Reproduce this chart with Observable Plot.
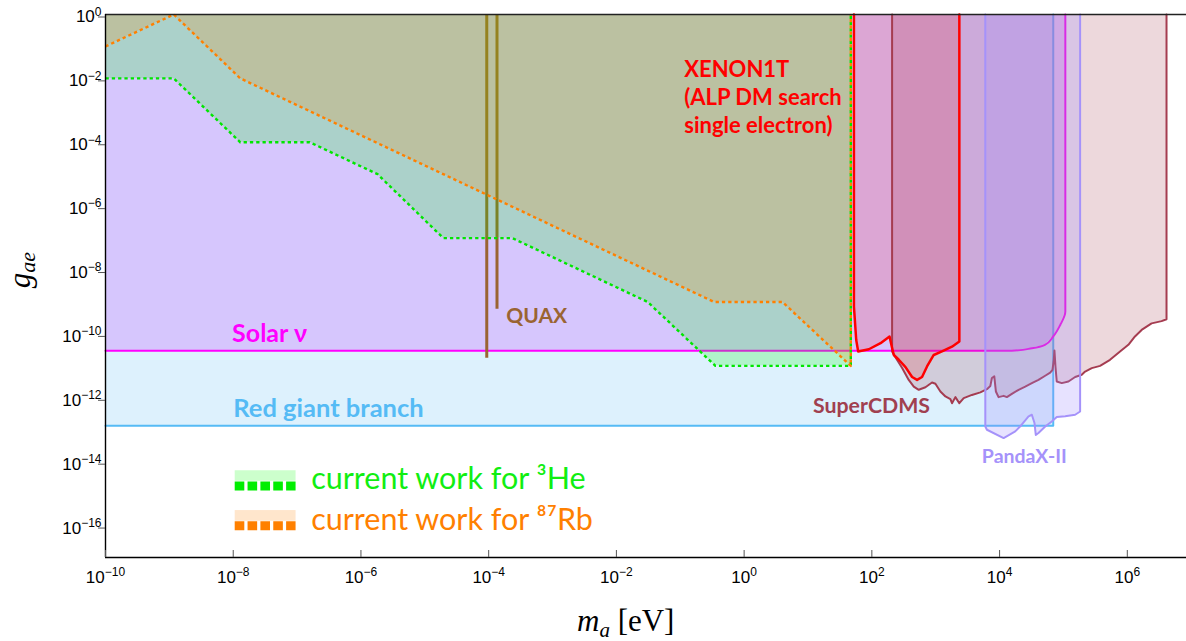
<!DOCTYPE html>
<html><head><meta charset="utf-8">
<script src="https://cdn.jsdelivr.net/npm/d3@7"></script>
<script src="https://cdn.jsdelivr.net/npm/@observablehq/plot@0.6"></script>
<style>
body{margin:0;background:#fff}
#chart{position:relative;width:1186px;height:641px}
</style>
</head><body><div id="chart"></div>
<script>
// ---------- data (mass m_a in eV, coupling g_ae) ----------
const xTicks = [1e-10, 1e-8, 1e-6, 1e-4, 1e-2, 1, 1e2, 1e4, 1e6];
const yTicks = [1, 1e-2, 1e-4, 1e-6, 1e-8, 1e-10, 1e-12, 1e-14, 1e-16];

const rgbMass = [1e-10, 6.92e4, 6.92e4];
const rgbCoupling = [1.33e-13, 1.33e-13, 1];

const solarMass = [1e-10, 1.55e4, 3.2e4, 5.13e4, 6.92e4, 8.91e4, 1.07e5, 1.07e5];
const solarCoupling = [2.95e-11, 2.95e-11, 3.55e-11, 4.57e-11, 8.32e-11, 1.91e-10, 5.01e-10, 1];

const quaxMass = [9.33e-5, 1.35e-4];
const quaxCouplingLow = [1.74e-11, 5.89e-10];

const he3Mass = [1e-10, 1.17e-9, 1.29e-8, 1.58e-7, 1.82e-6, 1.95e-5, 2.34e-4, 3.09e-2, 0.355, 46.8, 46.8];
const he3Coupling = [1e-2, 1e-2, 1e-4, 1e-4, 1e-5, 1e-7, 1e-7, 1e-9, 1e-11, 1e-11, 1];

const rb87Mass = [1e-10, 1.17e-9, 1.29e-8, 0.339, 3.98, 46.8, 46.8];
const rb87Coupling = [1e-1, 1, 1e-2, 1e-9, 1e-9, 1e-11, 1];

const xenonMass = [52.4, 52.4, 56.9, 61.1, 89.7, 136.8, 189.2, 207.5, 220.8, 264.2, 336.5, 426.6, 510.5, 610.9, 731.1, 931.1, 1253, 1799, 2344, 2344];
const xenonCoupling = [1, 7.13e-10, 6.46e-11, 2.82e-11, 3.31e-11, 5.13e-11, 8.32e-11, 3.63e-11, 2.19e-11, 1.55e-11, 9.12e-12, 4.47e-12, 3.63e-12, 4.47e-12, 9.55e-12, 2.19e-11, 2.82e-11, 3.98e-11, 5.75e-11, 1];

const cdmsMass = [207.5, 207.5, 234, 298, 378, 453, 542, 690, 875, 989, 1183, 1419, 1698, 1799, 2032, 2344, 2742, 3690, 4989, 6339, 7161, 7586, 8260, 8750, 9638, 1.156e4, 1.3e4, 1.556e4, 1.982e4, 2.518e4, 3.199e4, 4.064e4, 5.176e4, 6.194e4, 6.73e4, 7.063e4, 7.228e4, 7.499e4, 7.852e4, 9.419e4, 1.197e5, 1.524e5, 1.932e5, 2.183e5, 2.773e5, 3.741e5, 5.358e5, 7.691e5, 1.038e6, 1.318e6, 1.675e6, 2.399e6, 3.436e6, 4.111e6, 4.111e6];
const cdmsCoupling = [1, 2.82e-11, 1.86e-11, 8.51e-12, 3.63e-12, 2.24e-12, 1.78e-12, 2.14e-12, 3.02e-12, 2.75e-12, 1.58e-12, 1.10e-12, 9.12e-13, 6.76e-13, 1.05e-12, 6.76e-13, 9.77e-13, 1.23e-12, 1.48e-12, 1.86e-12, 2.34e-12, 4.17e-12, 4.68e-12, 1.58e-12, 1.05e-12, 1.15e-12, 1.05e-12, 1.32e-12, 1.78e-12, 2.24e-12, 2.88e-12, 3.63e-12, 4.90e-12, 6.17e-12, 7.41e-12, 1.55e-11, 3.02e-11, 9.55e-12, 3.24e-12, 2.88e-12, 3.24e-12, 4.47e-12, 5.25e-12, 6.61e-12, 8.51e-12, 1.0e-11, 1.55e-11, 2.82e-11, 4.57e-11, 8.32e-11, 1.33e-10, 2.14e-10, 2.51e-10, 2.88e-10, 1];

const pandaMass = [5.98e3, 5.98e3, 6.34e3, 1.156e4, 1.758e4, 2.09e4, 2.84e4, 3.20e4, 3.52e4, 3.69e4, 4.06e4, 5.18e4, 6.56e4, 7.85e4, 1.064e5, 1.524e5, 1.824e5, 1.824e5];
const pandaCoupling = [1, 1.26e-13, 1.0e-13, 5.5e-14, 8.9e-14, 1.26e-13, 2.63e-13, 2.95e-13, 1.62e-13, 6.9e-14, 7.9e-14, 1.26e-13, 1.82e-13, 2.51e-13, 2.63e-13, 2.95e-13, 3.72e-13, 1];

const regionLabels = ["Solar ν", "Red giant branch", "QUAX", "SuperCDMS", "PandaX-II", "XENON1T\n(ALP DM search\nsingle electron)"];
const legendLabels = ["current work for ³He", "current work for ⁸⁷Rb"];

// ---------- build tables ----------
const rows = (ms, gs) => ms.map((m, i) => ({m, g: gs[i]}));
const rgb = rows(rgbMass, rgbCoupling);
const solar = rows(solarMass, solarCoupling);
const quax = rows(quaxMass, quaxCouplingLow);
const he3 = rows(he3Mass, he3Coupling);
const rb87 = rows(rb87Mass, rb87Coupling);
const xenon = rows(xenonMass, xenonCoupling);
const cdms = rows(cdmsMass, cdmsCoupling);
const panda = rows(pandaMass, pandaCoupling);

const C = {
  rgb: "#55bbf5", solar: "#ff00ff", solarFill: "#c864ff", quax: "#9a6432",
  he3: "#00e600", rb87: "#ff8000", xenon: "#ff0000", cdms: "#a53c50", panda: "#a592fa"
};
const labelFont = {fontFamily: "Lato", fontWeight: "bold", fontSize: 22, textAnchor: "start", lineAnchor: "bottom"};
const expLabel = d => `10^${Math.round(Math.log10(d))}`;

const chart = Plot.plot({
  width: 1186, height: 641,
  marginLeft: 105, marginRight: 0, marginTop: 14, marginBottom: 84,
  style: {fontFamily: "Liberation Sans", fontSize: "17px", background: "white", color: "#000", overflow: "visible"},
  x: {type: "log", domain: [1e-10, 8.45e6], label: null},
  y: {type: "log", domain: [1e-17, 1], label: null},
  marks: [
    // Red giant branch
    Plot.areaY(rgb, {x: "m", y1: "g", y2: 1, fill: C.rgb, fillOpacity: 0.2}),
    Plot.line(rgb, {x: "m", y: "g", stroke: C.rgb, strokeWidth: 2}),
    // Solar neutrino
    Plot.areaY(solar, {x: "m", y1: "g", y2: 1, fill: C.solarFill, fillOpacity: 0.3}),
    Plot.line(solar, {x: "m", y: "g", stroke: C.solar, strokeWidth: 2, curve: "monotone-y"}),
    // QUAX
    Plot.ruleX(quax, {x: "m", y1: "g", y2: 1, stroke: C.quax, strokeWidth: 3}),
    // current work fills
    Plot.areaY(he3, {x: "m", y1: "g", y2: 1, fill: "#00ff00", fillOpacity: 0.2}),
    Plot.areaY(rb87, {x: "m", y1: "g", y2: 1, fill: C.rb87, fillOpacity: 0.2}),
    Plot.line(he3, {x: "m", y: "g", stroke: C.he3, strokeWidth: 2.4, strokeDasharray: "3.3,3", strokeLinecap: "butt"}),
    Plot.line(rb87, {x: "m", y: "g", stroke: C.rb87, strokeWidth: 2.4, strokeDasharray: "3.3,3", strokeLinecap: "butt"}),
    // XENON1T
    Plot.areaY(xenon, {x: "m", y1: "g", y2: 1, fill: C.xenon, fillOpacity: 0.16}),
    // SuperCDMS
    Plot.areaY(cdms, {x: "m", y1: "g", y2: 1, fill: C.cdms, fillOpacity: 0.2}),
    Plot.line(cdms, {x: "m", y: "g", stroke: C.cdms, strokeWidth: 2}),
    // PandaX-II
    Plot.areaY(panda, {x: "m", y1: "g", y2: 1, fill: "#a08cff", fillOpacity: 0.25}),
    Plot.line(panda, {x: "m", y: "g", stroke: C.panda, strokeWidth: 2}),
    Plot.line(xenon, {x: "m", y: "g", stroke: C.xenon, strokeWidth: 2.5}),
    // region labels
    Plot.text([regionLabels[0]], {...labelFont, fontSize: 25, x: 9.6e-9, y: 5.4e-11, fill: C.solar}),
    Plot.text([regionLabels[1]], {...labelFont, fontSize: 25.5, x: 1e-8, y: 2.57e-13, fill: C.rgb}),
    Plot.text([regionLabels[2]], {...labelFont, fontSize: 21, x: 1.89e-4, y: 2.16e-10, fill: C.quax}),
    Plot.text([regionLabels[3]], {...labelFont, fontSize: 21.3, x: 11.97, y: 3.39e-13, fill: "#a0404f"}),
    Plot.text([regionLabels[4]], {...labelFont, fontSize: 19.5, x: 5.28e3, y: 9.1e-15, fill: C.panda}),
    Plot.text([regionLabels[5]], {...labelFont, lineAnchor: "top", lineHeight: 1.27, x: 0.1155, y: 4.63e-2, fill: C.xenon}),
    // legend
    Plot.rect([0], {x1: 1.074e-8, x2: 9.64e-8, y1: 2.43e-15, y2: 5.2e-15, fill: "#00ff00", fillOpacity: 0.2}),
    Plot.ruleY([1.74e-15], {x1: 1.074e-8, x2: 9.64e-8, stroke: "#00ee00", strokeWidth: 9, strokeDasharray: "9.6,3.25"}),
    Plot.rect([0], {x1: 1.074e-8, x2: 9.64e-8, y1: 1.36e-16, y2: 2.95e-16, fill: C.rb87, fillOpacity: 0.2}),
    Plot.ruleY([9.86e-17], {x1: 1.074e-8, x2: 9.64e-8, stroke: C.rb87, strokeWidth: 9, strokeDasharray: "9.6,3.25"}),
    Plot.text([legendLabels[0]], {x: 1.66e-7, y: 1.41e-15, fontFamily: "Lato", fontSize: 30.5, textAnchor: "start", lineAnchor: "bottom", fill: "#11ee11"}),
    Plot.text([legendLabels[1]], {x: 1.66e-7, y: 7.5e-17, fontFamily: "Lato", fontSize: 30.5, textAnchor: "start", lineAnchor: "bottom", fill: C.rb87}),
    // frame
    Plot.ruleY([1], {stroke: "#222", strokeWidth: 1.6}),
    Plot.ruleY([1e-17], {stroke: "#000", strokeWidth: 1.4}),
    Plot.ruleX([1e-10], {stroke: "#000", strokeWidth: 1.4}),
    // axes
    Plot.axisX(xTicks, {tickSize: 7, tickPadding: 6, fontSize: 17, tickFormat: expLabel, stroke: "#555"}),
    Plot.axisY(yTicks, {tickSize: 7, tickPadding: -3, dy: 2.5, fontSize: 17, tickFormat: expLabel, stroke: "#555"})
  ]
});

document.getElementById("chart").appendChild(chart);

const svg = d3.select(chart);
// x ticks point inward (upward) as in the original frame
svg.selectAll('g[aria-label="x-axis tick"] path').attr("d", "M0,0L0,-7");
// superscript exponents, Arial-like tick labels
svg.selectAll('g[aria-label="x-axis tick label"], g[aria-label="y-axis tick label"]')
  .attr("font-size", 17).attr("font-family", "Liberation Sans");
svg.selectAll('g[aria-label="x-axis tick label"] text, g[aria-label="y-axis tick label"] text').each(function () {
  const exp = this.textContent.split("^")[1].replace("-", "\u2212");
  const t = d3.select(this);
  t.attr("font-size", 17).style("font-size", "17px");
  t.text(null);
  t.append("tspan").text("10");
  t.append("tspan").attr("dy", "-0.55em").style("font-size", "12px").text(exp);
});

// axis titles
const xt = svg.append("text").attr("x", 577).attr("y", 631).attr("text-anchor", "start")
  .attr("font-family", "Liberation Serif").attr("font-size", 31).attr("fill", "#000");
xt.append("tspan").attr("font-style", "italic").text("m");
xt.append("tspan").attr("font-style", "italic").attr("font-size", 21).attr("dy", 6).text("a");
xt.append("tspan").attr("dy", -6).text(" [eV]");

const yt = svg.append("text").attr("transform", "translate(30,270) rotate(-90)")
  .attr("text-anchor", "middle").attr("font-family", "Liberation Serif").attr("font-size", 31).attr("fill", "#000");
yt.append("tspan").attr("font-style", "italic").text("g");
yt.append("tspan").attr("font-style", "italic").attr("font-size", 22).attr("dy", 5).text("ae");
</script></body></html>
